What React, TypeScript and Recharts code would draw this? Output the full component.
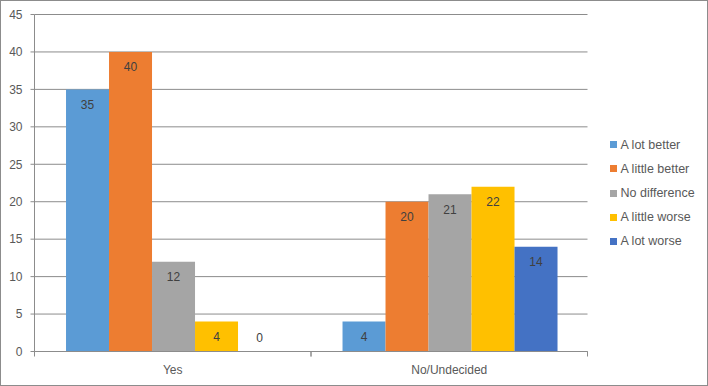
import React from 'react';
import { BarChart, Bar, XAxis, YAxis, CartesianGrid, Legend, LabelList } from 'recharts';

const categories = ['Yes', 'No/Undecided'];
const seriesNames = ['A lot better', 'A little better', 'No difference', 'A little worse', 'A lot worse'];
const aLotBetter = [35, 4];
const aLittleBetter = [40, 20];
const noDifference = [12, 21];
const aLittleWorse = [4, 22];
const aLotWorse = [0, 14];
const yTicks = [0, 5, 10, 15, 20, 25, 30, 35, 40, 45];

const colors = ['#5B9BD5', '#ED7D31', '#A5A5A5', '#FFC000', '#4472C4'];
const seriesValues = [aLotBetter, aLittleBetter, noDifference, aLittleWorse, aLotWorse];
const keys = ['s0', 's1', 's2', 's3', 's4'];

const data = categories.map((c, i) => {
  const row: any = { name: c };
  keys.forEach((k, j) => {
    row[k] = seriesValues[j][i];
  });
  return row;
});

const FONT = '"Liberation Sans", Arial, sans-serif';
const TEXT = '#595959';
const LINE = '#8c8c8c';
const TICK_SIZE = 5;
const TICK_MARGIN = 6;

const renderLabel = (props: any) => {
  const vb = props.viewBox || {};
  const x = props.x ?? vb.x;
  const y = props.y ?? vb.y;
  const width = props.width ?? vb.width;
  const height = props.height ?? vb.height ?? 0;
  const value = props.value;
  const cy = Number(value) === 0 ? y + height - 14 : y + 15.5;
  return (
    <text
      x={x + width / 2}
      y={cy}
      textAnchor="middle"
      dominantBaseline="central"
      fill="#404040"
      fontSize={12}
      fontFamily={FONT}
    >
      {value}
    </text>
  );
};

const XTick = (props: any) => {
  const { x, y, payload } = props;
  const half = payload.offset || 0;
  const axisY = y - TICK_SIZE - TICK_MARGIN;
  return (
    <g>
      <line x1={x - half} x2={x - half} y1={axisY} y2={axisY + TICK_SIZE} stroke={LINE} />
      <line x1={x + half} x2={x + half} y1={axisY} y2={axisY + TICK_SIZE} stroke={LINE} />
      <text x={x} y={axisY + 22} textAnchor="middle" fill={TEXT} fontSize={12} fontFamily={FONT}>
        {payload.value}
      </text>
    </g>
  );
};

const LegendContent = () => (
  <div style={{ paddingLeft: 22, fontFamily: FONT, fontSize: 12.5, color: TEXT }}>
    {seriesNames.map((n, i) => (
      <div key={n} style={{ height: 24.2, display: 'flex', alignItems: 'center', whiteSpace: 'nowrap' }}>
        <span style={{ display: 'inline-block', width: 7, height: 7, background: colors[i], marginRight: 4 }} />
        <span>{n}</span>
      </div>
    ))}
  </div>
);

export default function App() {
  return (
    <div
      style={{
        position: 'absolute',
        left: 0,
        top: 0,
        width: 708,
        height: 386,
        background: '#fff',
      }}
    >
      <div
        style={{
          position: 'absolute',
          left: 0,
          top: 0,
          width: 706,
          height: 384,
          border: `1px solid ${LINE}`,
          pointerEvents: 'none',
          zIndex: 2,
        }}
      />
      <BarChart
        width={708}
        height={386}
        data={data}
        margin={{ top: 14.5, right: 4.5, bottom: 0, left: 0 }}
        barCategoryGap="11.4%"
        barGap={0}
      >
        <CartesianGrid vertical={false} stroke={LINE} />
        <XAxis
          dataKey="name"
          height={34.5}
          stroke={LINE}
          tickLine={false}
          tickSize={TICK_SIZE}
          tickMargin={TICK_MARGIN}
          tick={<XTick />}
          interval={0}
        />
        <YAxis
          width={34.5}
          domain={[0, 45]}
          ticks={yTicks}
          stroke={LINE}
          tickSize={4}
          tickMargin={8}
          tick={{ fill: TEXT, fontSize: 12, fontFamily: FONT }}
          interval={0}
        />
        <Legend
          layout="vertical"
          align="right"
          verticalAlign="middle"
          content={<LegendContent />}
          wrapperStyle={{ width: 116 }}
        />
        {keys.map((k, i) => (
          <Bar
            key={k}
            dataKey={k}
            name={seriesNames[i]}
            fill={colors[i]}
            minPointSize={0.001}
            isAnimationActive={false}
          >
            <LabelList dataKey={k} content={renderLabel} />
          </Bar>
        ))}
      </BarChart>
    </div>
  );
}
